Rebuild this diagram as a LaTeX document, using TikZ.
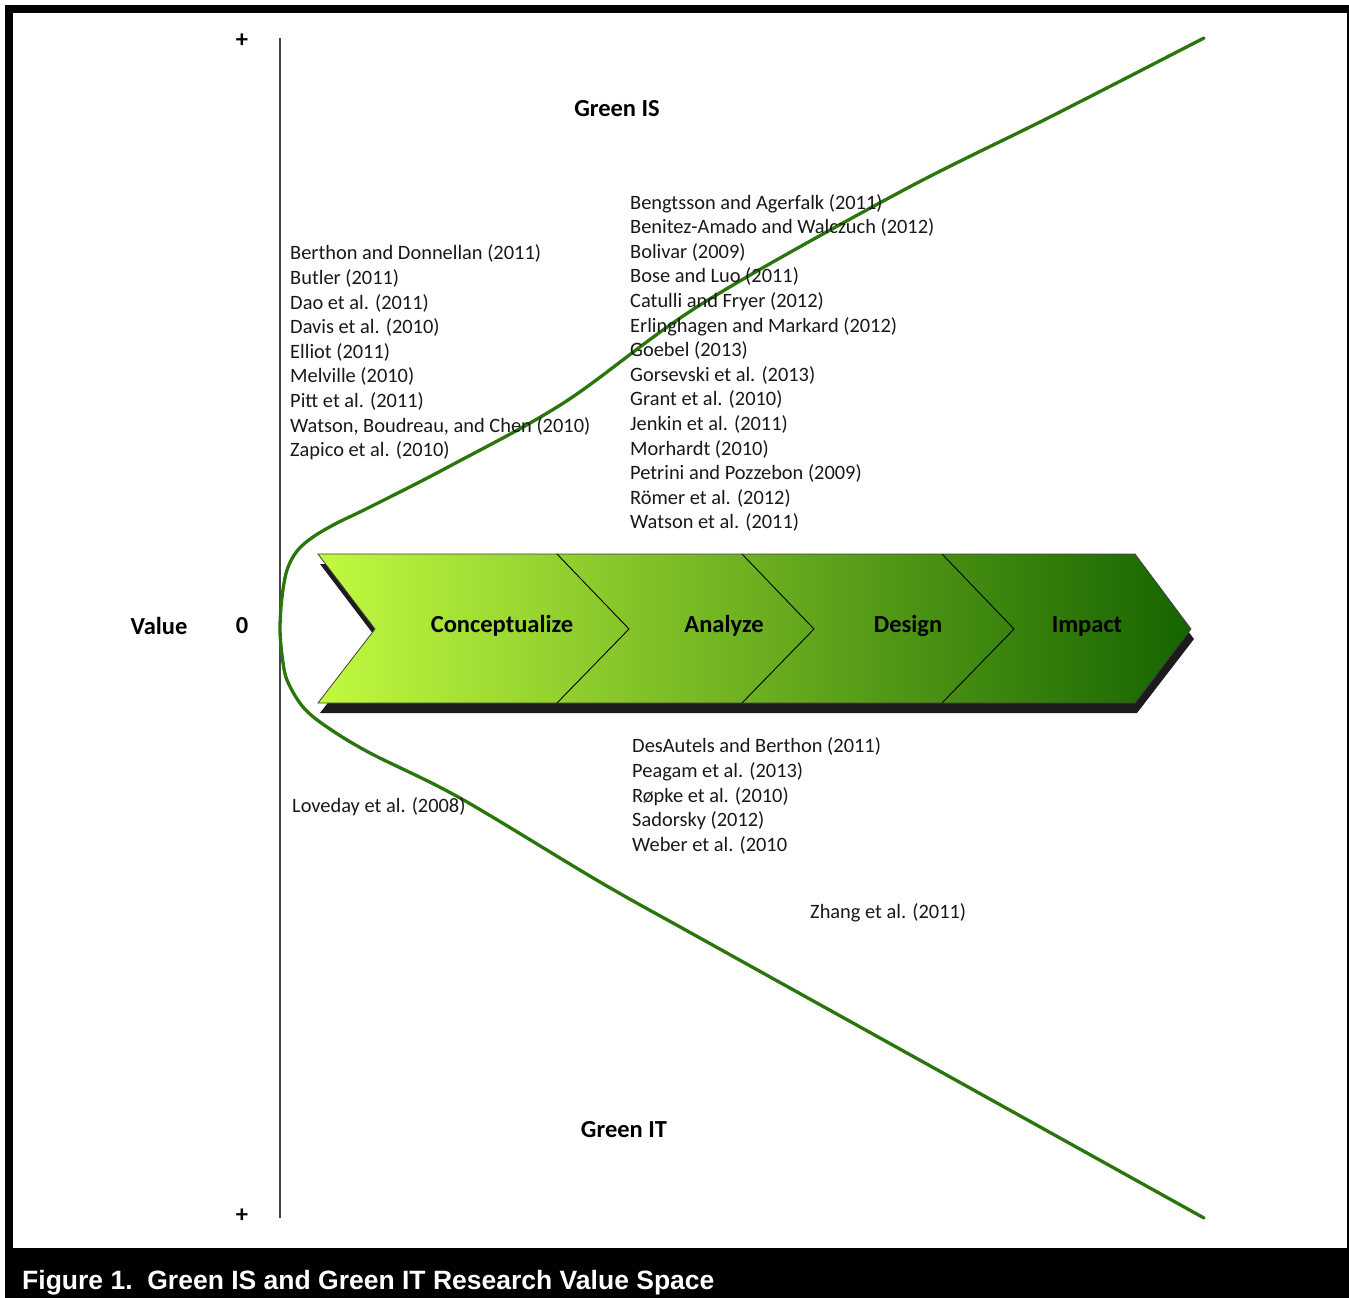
\documentclass[tikz,border=0pt]{standalone}
\usepackage{fontspec}
\setmainfont{Carlito}
\newfontfamily\capfont{Liberation Sans}
\definecolor{curvegreen}{RGB}{40,118,12}
\definecolor{chevL}{RGB}{194,250,64}
\definecolor{chevM}{RGB}{104,178,26}
\definecolor{chevR}{RGB}{22,100,0}
\definecolor{axisgray}{RGB}{70,70,70}
\definecolor{shadowc}{RGB}{28,28,28}
\begin{document}
\begin{tikzpicture}[x=1pt,y=-1pt,
  reftext/.style={font=\fontsize{20.4}{24.6}\selectfont, align=left, anchor=west, inner sep=0pt, text=black!90},
  boldlabel/.style={font=\fontsize{24.5}{29}\selectfont\bfseries, inner sep=0pt, text=black},
  curveline/.style={draw=curvegreen, line width=3.3pt, line cap=round},
  chevline/.style={draw=black, line width=0.9pt},
]
\useasboundingbox (0,0) rectangle (1349,1298);
% frame
\fill[black] (5,5) rectangle (1349,1298);
\fill[white] (13,13) rectangle (1347,1248);
% axis
\coordinate (axtop) at (280,38);
\coordinate (axbot) at (280,1218);
\draw[axisgray, line width=1.5pt] (axtop) -- (axbot);
% chevron shadow
\fill[shadowc] (320,564) -- (1137,564) -- (1194,639) -- (1137,713) -- (320,713) -- (377,639) -- cycle;
% chevron body
\path[left color=chevL, middle color=chevM, right color=chevR, draw=black!75, line width=0.8pt]
  (318,554) -- (1135,554) -- (1191,629) -- (1135,703) -- (318,703) -- (375,629) -- cycle;
\draw[chevline] (557,554) -- (629,629) -- (557,703);
\draw[chevline] (742,554) -- (814,629) -- (742,703);
\draw[chevline] (942,554) -- (1014,629) -- (942,703);
% curve
\draw[curveline] plot[smooth, tension=0.55] coordinates {
 (1204,38) (1052,116) (900,192) (700,305) (565,402) (450,466) (370,507) (337,523)
 (313,537) (297,551) (287,570) (282,597) (280,628) (282,655) (287,680) (303,707)
 (327,727) (370,753) (460,798) (600,882) (700,938) (952,1078) (1204,1218)};
% labels
\node[boldlabel] (plustop) at (242,41) {+};
\node[boldlabel] (plusbot) at (242,1216) {+};
\node[boldlabel] (zero) at (242,626) {0};
\node[boldlabel] (value) at (159,626) {Value};
\node[boldlabel] (greenis) at (617,109) {Green IS};
\node[boldlabel] (greenit) at (624,1130) {Green IT};
\node[boldlabel] (conc) at (502,626) {Conceptualize};
\node[boldlabel] (anal) at (724,626) {Analyze};
\node[boldlabel] (desi) at (908,626) {Design};
\node[boldlabel] (impa) at (1087,626) {Impact};
% reference lists
\node[reftext] (leftlist) at (290,352.5) {Berthon and Donnellan (2011)\\Butler (2011)\\Dao et al. (2011)\\Davis et al. (2010)\\Elliot (2011)\\Melville (2010)\\Pitt et al. (2011)\\Watson, Boudreau, and Chen (2010)\\Zapico et al. (2010)};
\node[reftext] (rightlist) at (630,363) {Bengtsson and Agerfalk (2011)\\Benitez-Amado and Walczuch (2012)\\Bolivar (2009)\\Bose and Luo (2011)\\Catulli and Fryer (2012)\\Erlinghagen and Markard (2012)\\Goebel (2013)\\Gorsevski et al. (2013)\\Grant et al. (2010)\\Jenkin et al. (2011)\\Morhardt (2010)\\Petrini and Pozzebon (2009)\\Römer et al. (2012)\\Watson et al. (2011)};
\node[reftext] (lowlist) at (632,796) {DesAutels and Berthon (2011)\\Peagam et al. (2013)\\Røpke et al. (2010)\\Sadorsky (2012)\\Weber et al. (2010};
\node[reftext] (loveday) at (292,807) {Loveday et al. (2008)};
\node[reftext] (zhang) at (810,913) {Zhang et al. (2011)};
% caption
\node[anchor=base west, inner sep=0pt, text=white, font=\capfont\bfseries\fontsize{26.5}{30}\selectfont] (caption) at (22,1289) {Figure 1.\ \ Green IS and Green IT Research Value Space};
\end{tikzpicture}
\end{document}
